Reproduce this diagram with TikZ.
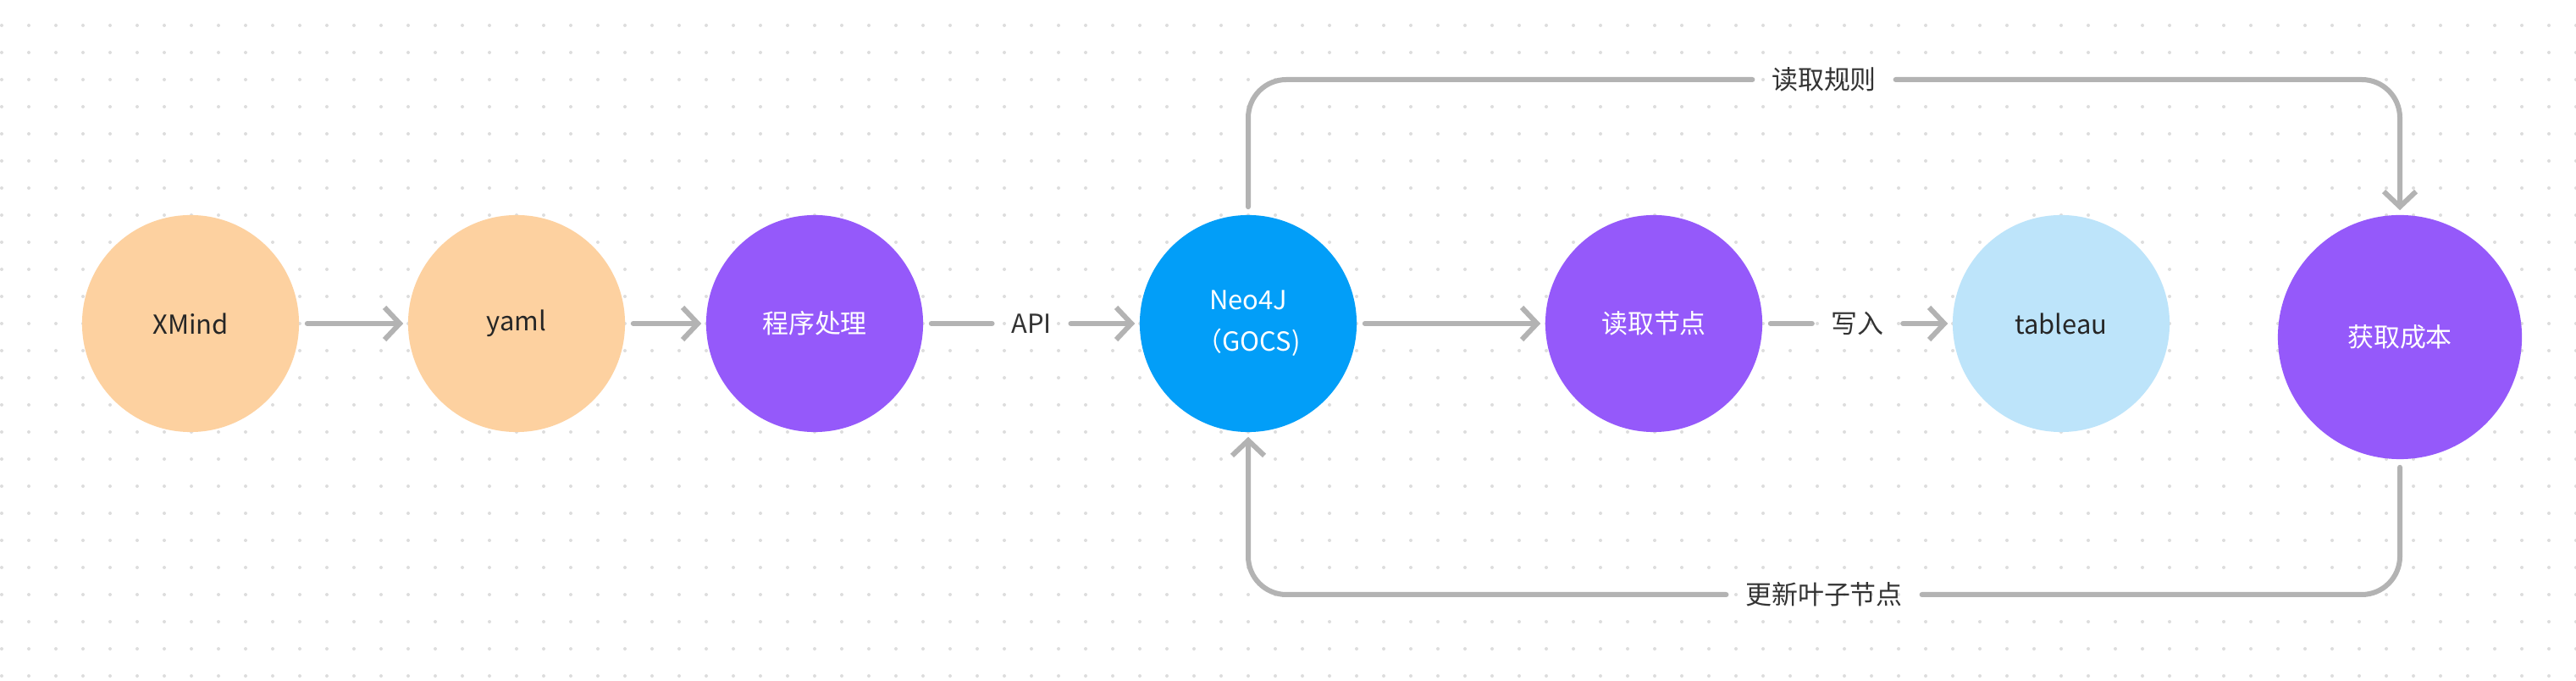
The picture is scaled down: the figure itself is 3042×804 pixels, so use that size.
\documentclass[tikz,border=0pt]{standalone}
\usepackage{fontspec}
\setmainfont{Noto Sans CJK SC}
\usepackage{tikz}
\usetikzlibrary{arrows.meta,positioning,calc}

\definecolor{peach}{HTML}{FDD1A0}
\definecolor{nodepurple}{HTML}{9559FA}
\definecolor{neoblue}{HTML}{029EF8}
\definecolor{paleblue}{HTML}{BDE4FA}
\definecolor{linkgray}{HTML}{B3B3B3}
\definecolor{dotgray}{HTML}{DDDDDD}
\definecolor{darktext}{HTML}{262626}
\definecolor{labeltext}{HTML}{333333}

\begin{document}
\begin{tikzpicture}[x=0.01cm,y=-0.01cm,
    bubble/.style={circle,minimum size=2.56cm,inner sep=0pt,align=center,
        font=\fontsize{8.8pt}{14pt}\selectfont},
    edgelbl/.style={inner xsep=0.22cm,inner ysep=0pt,text=labeltext,
        font=\fontsize{8.8pt}{14pt}\selectfont},
    link/.style={draw=linkgray,line width=0.06cm,line cap=round,line join=round},
    arr/.style={-{Straight Barb[length=0.18cm,width=0.38cm]},shorten >=0.05cm},
    tailgap/.style={shorten <=0.09cm}]
            \useasboundingbox (0,0) rectangle (3042,804);
            \fill[white] (0,0) rectangle (3042,804);
            % dot grid
            \fill[dotgray] \foreach \i in {0,...,95} {\foreach \j in {0,...,24} {(2+32*\i,30+32*\j) circle[radius=0.02cm]}};
            \foreach \n/\x/\c/\t/\s in {xmind/225/peach/darktext/XMind, yaml/610/peach/darktext/yaml, prog/962/nodepurple/white/程序处理, neo/1474/neoblue/white/{Neo4J\\（GOCS)}, readnode/1953/nodepurple/white/读取节点, tab/2434/paleblue/darktext/tableau} {
                \node[bubble,fill=\c,text=\t] (\n) at (\x,382) {\s};
            }
            \node[bubble,fill=nodepurple,text=white,minimum size=2.88cm] (cost) at (2834,398) {获取成本};
            % straight links
            \draw[link,tailgap,arr] (xmind) -- (yaml);
            \draw[link,tailgap,arr] (yaml) -- (prog);
            \node[edgelbl] (api) at ($(prog.east)!0.5!(neo.west)$) {API};
            \draw[link,tailgap] (prog) -- (api);
            \draw[link,arr] (api) -- (neo);
            \draw[link,tailgap,arr] (neo) -- (readnode);
            \node[edgelbl] (write) at ($(readnode.east)!0.5!(tab.west)$) {写入};
            \draw[link,tailgap] (readnode) -- (write);
            \draw[link,arr] (write) -- (tab);
            % loop over the top and back underneath
            \node[edgelbl] (rules) at (2154,94) {读取规则};
            \draw[link,tailgap,rounded corners=0.45cm] (neo.north) |- (rules);
            \draw[link,arr,rounded corners=0.45cm] (rules) -| (cost.north);
            \node[edgelbl] (leaf) at (2154,702) {更新叶子节点};
            \draw[link,tailgap,rounded corners=0.45cm] (cost.south) |- (leaf);
            \draw[link,arr,rounded corners=0.45cm] (leaf) -| (neo.south);
        \end{tikzpicture}
\end{document}
